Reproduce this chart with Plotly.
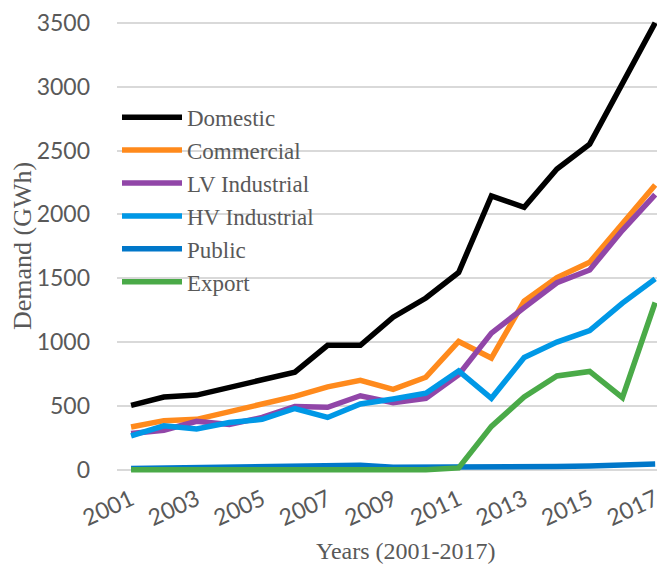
import plotly.graph_objects as go

years = list(range(2001, 2018))
tick_years = [2001, 2003, 2005, 2007, 2009, 2011, 2013, 2015, 2017]

domestic = [505, 570, 585, 645, 715, 765, 975, 975, 1195, 1345, 1545, 2145, 2055, 2355, 2550, 3035, 3500]
commercial = [335, 385, 395, 455, 525, 575, 650, 700, 630, 725, 1005, 875, 1320, 1505, 1625, 1935, 2230]
lv_industrial = [285, 310, 380, 355, 410, 495, 490, 580, 525, 560, 745, 1070, 1270, 1465, 1565, 1875, 2155]
hv_industrial = [265, 345, 320, 370, 395, 480, 410, 515, 555, 600, 775, 560, 880, 1000, 1090, 1305, 1495]
public = [10, 15, 20, 20, 25, 30, 40, 35, 20, 20, 25, 15, 25, 25, 30, 35, 45]
export = [0, 0, 0, 0, 0, 0, 0, 0, 0, 0, 15, 340, 570, 735, 770, 565, 1310]

series = [
    ("Domestic", domestic, "#000000"),
    ("Commercial", commercial, "#FF8A1C"),
    ("LV Industrial", lv_industrial, "#9146A8"),
    ("HV Industrial", hv_industrial, "#0098E6"),
    ("Public", public, "#0077C9"),
    ("Export", export, "#4AAA48"),
]

fig = go.Figure()
for name, vals, col in series:
    fig.add_trace(go.Scatter(x=years, y=vals, name=name, mode="lines",
                             line=dict(color=col, width=5.5)))

fig.update_layout(
    width=657, height=558,
    margin=dict(l=109, r=0, t=11, b=93),
    paper_bgcolor="white", plot_bgcolor="white",
    showlegend=True,
    legend=dict(x=0.0, y=0.831, xanchor="left", yanchor="top",
                bgcolor="rgba(0,0,0,0)",
                font=dict(family="Liberation Serif", size=23, color="#595959"),
                itemwidth=60, tracegroupgap=0),
    xaxis=dict(range=[2000.57, 2017.3], tickmode="array", tickvals=tick_years,
               ticktext=[str(y) for y in tick_years], tickangle=-25,
               showgrid=False, zeroline=False, showline=False, automargin=False,
               ticks="", ticklabelstandoff=8,
               tickfont=dict(family="Lato", size=23, color="#595959")),
    yaxis=dict(range=[-25, 3530], tickvals=[0, 500, 1000, 1500, 2000, 2500, 3000, 3500],
               showgrid=True, gridcolor="#D9D9D9", gridwidth=2, automargin=False,
               zeroline=False, showline=False, ticks="", ticklabelstandoff=26,
               ticklabeloverflow="allow",
               tickfont=dict(family="Lato", size=23, color="#595959"),
               title=dict(text="Demand (GWh)", standoff=14,
                          font=dict(family="Liberation Serif", size=26, color="#595959"))),
    annotations=[dict(text="Years (2001-2017)", xref="paper", yref="paper",
                      x=0.527, y=-0.172, xanchor="center", yanchor="middle", showarrow=False,
                      font=dict(family="Liberation Serif", size=24, color="#595959"))],
)

fig.write_html("out.html")
